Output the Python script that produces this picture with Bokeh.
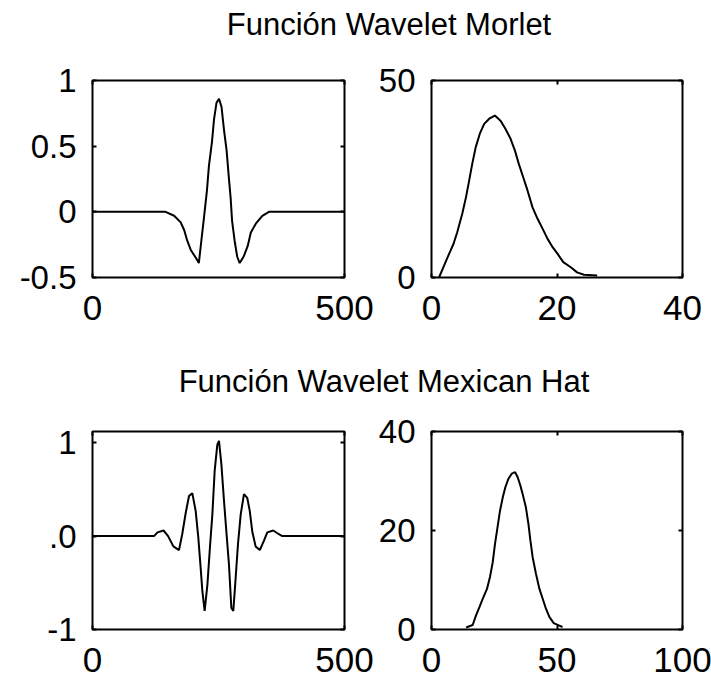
from bokeh.plotting import figure
from bokeh.layouts import column, row
from bokeh.models import Range1d, FixedTicker, LinearAxis, Label
from bokeh.embed import file_html
from bokeh.resources import INLINE

FONT = "Liberation Sans"

titles = ["Función Wavelet Morlet", "Función Wavelet Mexican Hat"]

# Panel 1: wavelet (top-left)
morlet_t = [0, 145, 162, 175, 182, 188, 195, 205, 211, 216, 221, 227, 231, 237,
            241, 246, 251, 256, 261, 266, 271, 274, 277, 282, 287, 292, 300, 308,
            314, 324, 337, 350, 500]
morlet_psi = [0, 0, -0.03, -0.08, -0.14, -0.22, -0.29, -0.35, -0.39, -0.22, -0.05,
              0.16, 0.35, 0.53, 0.70, 0.83, 0.86, 0.80, 0.62, 0.47, 0.24, 0.11,
              -0.07, -0.22, -0.34, -0.39, -0.34, -0.26, -0.16, -0.09, -0.03, 0, 0]

# Panel 2: spectrum (top-right)
freq1 = [1.2, 2.0, 2.8, 3.5, 4.1, 4.9, 5.5, 6.0, 6.5, 7.05, 7.7, 8.4, 9.2, 10.1,
         11.0, 11.8, 12.6, 13.3, 13.9, 14.6, 15.3, 16.1, 16.9, 17.7, 18.5, 19.3,
         20.1, 21.0, 22.2, 23.2, 24.3, 26.4]
amp1 = [0, 3.0, 6.0, 8.5, 11.5, 16.2, 20.4, 24.6, 28.9, 33.1, 36.5, 39.0, 40.3,
        41.1, 39.8, 37.7, 35.2, 32.2, 28.9, 25.5, 22.1, 17.8, 14.9, 12.4, 9.8,
        7.7, 6.0, 3.9, 2.6, 1.3, 0.7, 0.5]

# Panel 3: wavelet (bottom-left)
mex_t = [0, 122, 129, 141, 150, 160.5, 171.6, 178, 185, 191.5, 198, 204.7, 210,
         214.6, 218, 222.5, 228, 233, 237.8, 242.4, 247.7, 251, 255.7, 261, 266,
         270.7, 275.5, 279.4, 284, 288.6, 294, 300.5, 307, 312, 317, 323.6, 332,
         340, 346.8, 358.7, 369.8, 376.5, 500]
mex_psi = [0, 0, 0.04, 0.06, 0, -0.11, -0.15, 0.02, 0.25, 0.43, 0.46, 0.27, -0.02,
           -0.34, -0.59, -0.80, -0.52, -0.12, 0.23, 0.70, 0.98, 1.02, 0.77, 0.37,
           0.02, -0.30, -0.77, -0.80, -0.45, -0.09, 0.23, 0.45, 0.41, 0.27, 0.05,
           -0.11, -0.15, -0.05, 0.04, 0.06, 0.02, 0, 0]

# Panel 4: spectrum (bottom-right)
freq2 = [13.8, 16.4, 17.7, 19.1, 20.4, 22.1, 23.3, 24.4, 25.3, 26.4, 27.3, 28.4,
         29.4, 30.6, 32.0, 33.3, 34.3, 35.4, 36.3, 37.6, 38.6, 39.4, 40.3, 41.6,
         43.0, 44.3, 45.6, 47.0, 48.7, 50.9, 52.2]
amp2 = [0.4, 0.9, 2.8, 4.5, 6.2, 8.2, 10.6, 13.6, 17.3, 21.0, 24.0, 26.7, 28.7,
        30.4, 31.5, 31.8, 30.8, 29.1, 27.4, 24.7, 21.4, 18.0, 14.6, 11.3, 8.2,
        6.2, 4.2, 2.5, 1.3, 0.8, 0.5]

xticks_wave = [0, 500]
xlabels_wave = {0: "0", 500: "500"}
yticks_wave1 = [-0.5, 0, 0.5, 1]
ylabels_wave1 = {-0.5: "-0.5", 0: "0", 0.5: "0.5", 1: "1"}
yticks_wave2 = [-1, 0, 1]
ylabels_wave2 = {1: "1", 0: ".0", -1: "-1"}
xticks_spec1 = [0, 20, 40]
yticks_spec1 = [0, 50]
xticks_spec2 = [0, 50, 100]
yticks_spec2 = [0, 20, 40]


def style_axis(ax, size, standoff):
    ax.axis_line_color = None
    ax.major_tick_in = 4
    ax.major_tick_out = 0
    ax.major_tick_line_width = 2
    ax.major_tick_line_color = "black"
    ax.minor_tick_line_color = None
    ax.major_label_text_font = FONT
    ax.major_label_text_font_size = size
    ax.major_label_text_color = "black"
    ax.major_label_standoff = standoff


def panel(xs, ys, xr, yr, xt, yt, bl, br, bt, bb, fw, fh, xover=None, yover=None):
    p = figure(frame_width=fw, frame_height=fh,
               x_range=Range1d(*xr), y_range=Range1d(*yr),
               min_border_left=bl, min_border_right=br,
               min_border_top=bt, min_border_bottom=bb,
               output_backend="svg", toolbar_location=None, tools="")
    p.line(xs, ys, line_color="black", line_width=2)
    p.grid.visible = False
    p.outline_line_color = "black"
    p.outline_line_width = 2
    p.background_fill_color = "white"
    p.border_fill_color = "white"
    xa = p.xaxis[0]
    ya = p.yaxis[0]
    xa.ticker = FixedTicker(ticks=xt)
    ya.ticker = FixedTicker(ticks=yt)
    style_axis(xa, "35px", 18)
    style_axis(ya, "33px", 16)
    if xover:
        xa.major_label_overrides = xover
    if yover:
        ya.major_label_overrides = yover
    top = LinearAxis(ticker=FixedTicker(ticks=xt))
    right = LinearAxis(ticker=FixedTicker(ticks=yt))
    for ax in (top, right):
        style_axis(ax, "0px", 0)
        ax.major_label_text_color = None
    p.add_layout(top, "above")
    p.add_layout(right, "right")
    return p


def title_strip(text, cx, cy, h):
    t = figure(frame_width=711, frame_height=h, x_range=Range1d(0, 711),
               y_range=Range1d(0, h), min_border=0, x_axis_location=None,
               y_axis_location=None, output_backend="svg",
               toolbar_location=None, tools="")
    t.grid.visible = False
    t.outline_line_color = None
    t.add_layout(Label(x=cx, y=cy, text=text, text_align="center",
                       text_baseline="middle", text_font=FONT,
                       text_font_size="31px", text_color="black"))
    return t


t1 = title_strip(titles[0], 388.5, 26, 50)
tl = panel(morlet_t, morlet_psi, (0, 500), (-0.5, 1), xticks_wave, yticks_wave1,
           92, 31, 30, 73, 252, 197, xover=xlabels_wave, yover=ylabels_wave1)
tr = panel(freq1, amp1, (0, 40), (0, 50), xticks_spec1, yticks_spec1,
           54, 31, 30, 73, 251, 197)
t2 = title_strip(titles[1], 383.5, 19.5, 50)
bl = panel(mex_t, mex_psi, (0, 500), (-1, 1.12), xticks_wave, yticks_wave2,
           92, 31, 31, 55, 252, 198, xover=xlabels_wave, yover=ylabels_wave2)
br = panel(freq2, amp2, (0, 100), (0, 40), xticks_spec2, yticks_spec2,
           54, 31, 31, 55, 251, 198)

layout = column(t1, row(tl, tr), t2, row(bl, br))
open("out.html", "w").write(file_html(layout, INLINE))
